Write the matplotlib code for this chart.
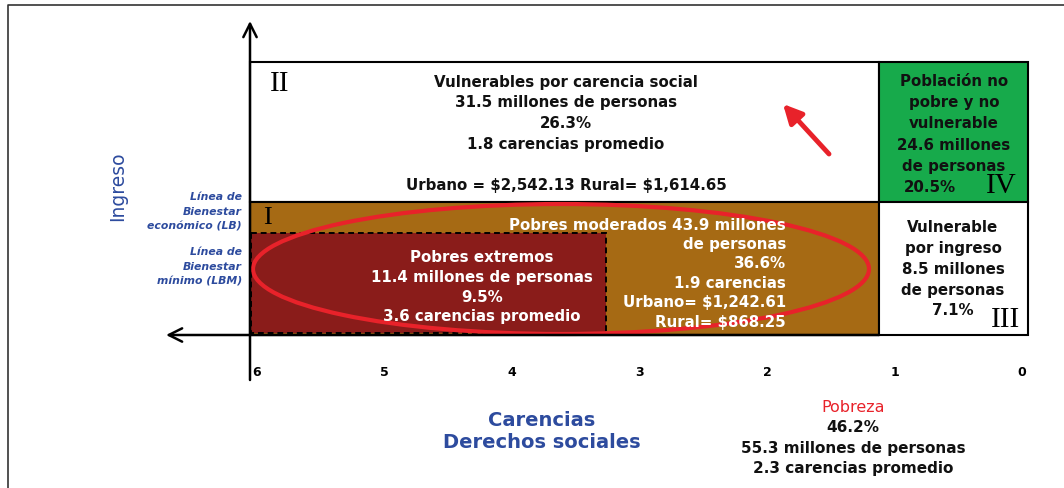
import matplotlib
matplotlib.use('Agg')
import matplotlib.pyplot as plt
from matplotlib.patches import Rectangle, Ellipse

plt.rcParams['text.parse_math'] = False

# ---- data ----
carencias_ticks = [6, 5, 4, 3, 2, 1, 0]

vuln_carencia = ["Vulnerables por carencia social", "31.5 millones de personas",
                 "26.3%", "1.8 carencias promedio", "",
                 "Urbano = $2,542.13 Rural= $1,614.65"]
no_pobre = ["Población no", "pobre y no", "vulnerable",
            "24.6 millones", "de personas"]
no_pobre_pct = "20.5%"
vuln_ingreso = ["Vulnerable", "por ingreso", "8.5 millones", "de personas", "7.1%"]
pobres_mod = ["Pobres moderados 43.9 millones", "de personas", "36.6%",
              "1.9 carencias", "Urbano= $1,242.61", "Rural= $868.25"]
pobres_ext = ["Pobres extremos", "11.4 millones de personas", "9.5%",
              "3.6 carencias promedio"]
pobreza = ["46.2%", "55.3 millones de personas", "2.3 carencias promedio"]
lineas = [["Línea de", "Bienestar", "económico (LB)"],
          ["Línea de", "Bienestar", "mínimo (LBM)"]]

BROWN = '#A66A14'
DARKRED = '#8A1C1A'
GREEN = '#17AA4B'
RED = '#E8222A'
BLUE = '#2D4B9E'

fig = plt.figure(figsize=(10.64, 4.89), dpi=100)
ax = fig.add_axes([0, 0, 1, 1])
ax.set_xlim(0, 1064)
ax.set_ylim(489, 0)
ax.axis('off')

# pixel layout
x_axis, x_mid, x_right = 250, 879, 1028
y_top, y_lb, y_lbm, y_axis = 63, 203, 234, 336
x_ext = 606


def cx(c):
    # carencias -> horizontal position
    return 257 + (6 - c) * 127.5


# frame (screenshot edge)
ax.plot([8, 8, 1064], [489, 6, 6], color='#333333', lw=1.2)

# boxes
ax.add_patch(Rectangle((x_axis, y_top), x_mid - x_axis, y_lb - y_top,
                       fc='white', ec='black', lw=1.5))
ax.add_patch(Rectangle((x_mid, y_top), x_right - x_mid, y_lb - y_top,
                       fc=GREEN, ec='black', lw=1.5))
ax.add_patch(Rectangle((x_axis, y_lb), x_mid - x_axis, y_axis - y_lb,
                       fc=BROWN, ec='black', lw=1.5))
ax.add_patch(Rectangle((x_mid, y_lb), x_right - x_mid, y_axis - y_lb,
                       fc='white', ec='black', lw=1.5))
ax.add_patch(Rectangle((x_axis + 1, y_lbm), x_ext - x_axis - 1, y_axis - 2 - y_lbm,
                       fc=DARKRED, ec='black', lw=1.4, ls=(0, (3, 2))))

# red ellipse
ax.add_patch(Ellipse((561, 270), 616, 130, fill=False, ec=RED, lw=3))

# axes arrows
ax.annotate('', xy=(250, 22), xytext=(250, 381),
            arrowprops=dict(arrowstyle='->', lw=1.8, color='black',
                            mutation_scale=24, shrinkA=0, shrinkB=0))
ax.annotate('', xy=(166, y_axis), xytext=(x_mid, y_axis),
            arrowprops=dict(arrowstyle='->', lw=1.8, color='black',
                            mutation_scale=24, shrinkA=0, shrinkB=0))

# red arrow
ax.annotate('', xy=(783, 105), xytext=(829, 155),
            arrowprops=dict(arrowstyle='-|>', lw=3.5, color=RED,
                            mutation_scale=28, shrinkA=0, shrinkB=0))

font = 'DejaVu Sans'
serif = 'Liberation Serif'
INK = '#111111'

# box II
for i, s in enumerate(vuln_carencia):
    ax.text(566, 82 + i * 20.7, s, ha='center', va='center', fontsize=10.8,
            family=font, weight='bold', color=INK)
ax.text(270, 84, 'II', ha='left', va='center', fontsize=21, family=serif)

# box IV
for i, s in enumerate(no_pobre):
    ax.text(954, 82 + i * 21, s, ha='center', va='center', fontsize=10.8,
            family=font, weight='bold', color=INK)
ax.text(930, 187, no_pobre_pct, ha='center', va='center', fontsize=10.8,
        family=font, weight='bold', color=INK)
ax.text(1001, 186, 'IV', ha='center', va='center', fontsize=21, family=serif)

# box III
for i, s in enumerate(vuln_ingreso):
    ax.text(953, 228 + i * 20.7, s, ha='center', va='center', fontsize=10.8,
            family=font, weight='bold', color=INK)
ax.text(1006, 320, 'III', ha='center', va='center', fontsize=21, family=serif)

# box I
ax.text(263, 218, 'I', ha='left', va='center', fontsize=19, family=serif)
for i, s in enumerate(pobres_mod):
    ax.text(786, 225 + i * 19.5, s, ha='right', va='center', fontsize=10.8,
            family=font, weight='bold', color='white')
for i, s in enumerate(pobres_ext):
    ax.text(482, 258 + i * 19.5, s, ha='center', va='center', fontsize=10.8,
            family=font, weight='bold', color='white')

# left labels
for j, block in enumerate(lineas):
    for i, s in enumerate(block):
        ax.text(242, 197 + j * 55 + i * 14.7, s, ha='right', va='center',
                fontsize=7.8, family=font, style='italic', weight='bold',
                color=BLUE)
ax.text(118, 186, 'Ingreso', rotation=90, ha='center', va='center',
        fontsize=13.5, family=font, color=BLUE)

# ticks
for c in carencias_ticks:
    ax.text(cx(c), 372, str(c), ha='center', va='center', fontsize=9,
            family=font, weight='bold')

ax.text(542, 420, 'Carencias', ha='center', va='center', fontsize=14,
        family=font, weight='bold', color=BLUE)
ax.text(542, 443, 'Derechos sociales', ha='center', va='center', fontsize=14,
        family=font, weight='bold', color=BLUE)

ax.text(853, 408, 'Pobreza', ha='center', va='center', fontsize=11.5,
        family=font, color=RED)
for i, s in enumerate(pobreza):
    ax.text(853, 428 + i * 20.3, s, ha='center', va='center', fontsize=11,
            family=font, weight='bold', color=INK)

fig.savefig('out.png', dpi=100)
